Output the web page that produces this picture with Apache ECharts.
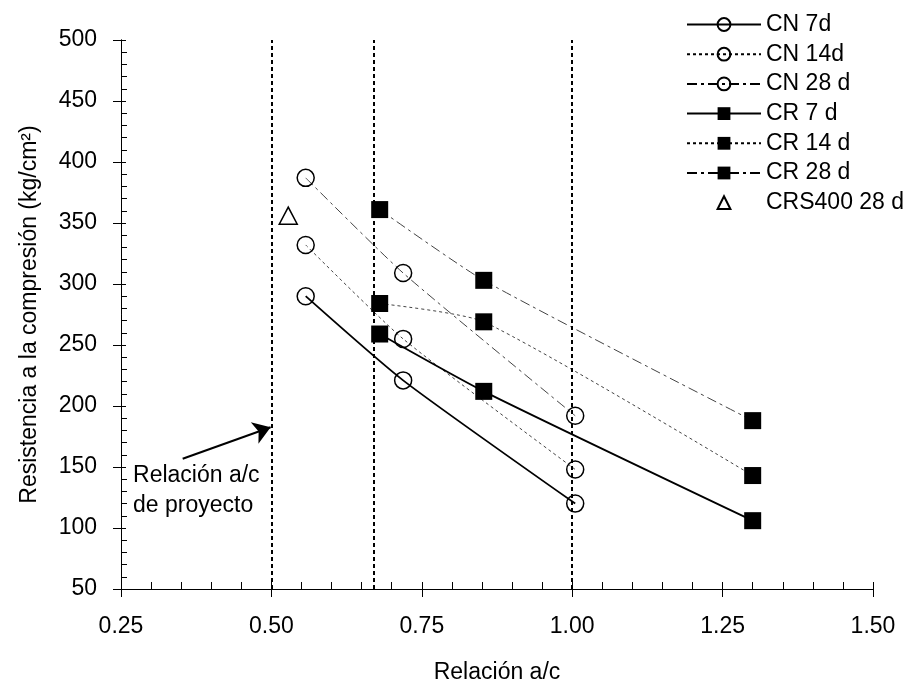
<!DOCTYPE html>
<html>
<head>
<meta charset="utf-8">
<script src="https://cdn.jsdelivr.net/npm/echarts@6/dist/echarts.min.js"></script>
<style>
  html, body { margin: 0; padding: 0; background: #fff; }
  #chart { width: 904px; height: 689px; }
</style>
</head>
<body>
<div id="chart"></div>
<script>
// Water/cement ratios of each mix family
const cnRatios = [0.557, 0.719, 1.005];
const crRatios = [0.68, 0.853, 1.30];
const crsRatios = [0.528];

// Compressive strength, kg/cm²
const cn7 = [290, 221, 120];
const cn14 = [332, 255, 148];
const cn28 = [387, 309, 192];
const cr7 = [259, 212, 106];
const cr14 = [284, 269, 143];
const cr28 = [361, 303, 188];
const crs400 = [356];

const seriesNames = ['CN 7d', 'CN 14d', 'CN 28 d', 'CR 7 d', 'CR 14 d', 'CR 28 d', 'CRS400 28 d'];

// Reference ratios drawn as vertical dotted lines
const guideRatios = [0.5, 0.67, 1.0];

const FONT = "'Liberation Sans', Arial, sans-serif";
const FS = 23;
const pairs = (xs, ys) => xs.map((x, i) => [x, ys[i]]);

const SOLID = { type: 'solid', width: 1.8, color: '#000' };
const DOTTED = { type: [3, 3], width: 1, color: '#444' };
const DASHDOT = { type: [10, 4, 3, 4], width: 1, color: '#444' };
const HOLLOW = { color: 'rgba(0,0,0,0)', borderColor: '#000', borderWidth: 1.5 };
const FILLED = { color: '#000', borderColor: '#000', borderWidth: 0 };

function curve(name, xs, ys, lineStyle, symbol) {
  return {
    name: name,
    type: 'line',
    data: pairs(xs, ys),
    smooth: 0.2,
    symbol: symbol,
    symbolSize: 17,
    lineStyle: lineStyle,
    itemStyle: symbol === 'rect' ? FILLED : HOLLOW,
    emphasis: { disabled: true },
    z: 3
  };
}

const chart = echarts.init(document.getElementById('chart'), null, { renderer: 'canvas' });

const axisBase = {
  type: 'value',
  axisLine: { show: true, lineStyle: { color: '#000', width: 1 } },
  splitLine: { show: false }
};

const option = {
  animation: false,
  backgroundColor: '#fff',
  textStyle: { fontFamily: FONT },
  grid: { left: 121, right: 31, top: 40, bottom: 96, containLabel: false },
  legend: {
    data: seriesNames,
    orient: 'vertical',
    left: 681,
    top: 8,
    itemWidth: 74,
    itemHeight: 16,
    itemGap: 6.7,
    selectedMode: false,
    lineStyle: { color: '#000' },
    textStyle: { fontSize: FS, color: '#000', fontFamily: FONT }
  },
  xAxis: [
    Object.assign({}, axisBase, {
      min: 0.25, max: 1.5, interval: 0.25,
      position: 'bottom',
      axisTick: { show: true, inside: false, length: 8, lineStyle: { color: '#000' } },
      axisLabel: {
        fontSize: FS, color: '#000', margin: 26, fontFamily: FONT,
        formatter: v => v.toFixed(2)
      },
      name: 'Relación a/c',
      nameLocation: 'middle',
      nameGap: 72,
      nameTextStyle: { fontSize: FS, color: '#000', fontFamily: FONT }
    }),
    Object.assign({}, axisBase, {
      min: 0.25, max: 1.5, interval: 0.25,
      position: 'bottom',
      axisTick: { show: true, inside: true, length: 7, lineStyle: { color: '#000' } },
      minorTick: { show: true, splitNumber: 5, length: 7, lineStyle: { color: '#000' } },
      axisLabel: { show: false }
    })
  ],
  yAxis: [
    Object.assign({}, axisBase, {
      min: 50, max: 500, interval: 50,
      position: 'left',
      axisTick: { show: true, inside: false, length: 8, lineStyle: { color: '#000' } },
      axisLabel: { fontSize: FS, color: '#000', margin: 24, fontFamily: FONT },
      name: 'Resistencia a la compresión (kg/cm²)',
      nameLocation: 'middle',
      nameGap: 80,
      nameTextStyle: { fontSize: FS, color: '#000', fontFamily: FONT }
    }),
    Object.assign({}, axisBase, {
      min: 50, max: 500, interval: 50,
      position: 'left',
      offset: 0,
      axisTick: { show: true, inside: true, length: 5, lineStyle: { color: '#000' } },
      minorTick: { show: true, splitNumber: 5, length: 6, lineStyle: { color: '#000' } },
      axisLabel: { show: false }
    })
  ],
  series: [
    curve(seriesNames[0], cnRatios, cn7, SOLID, 'circle'),
    curve(seriesNames[1], cnRatios, cn14, DOTTED, 'circle'),
    curve(seriesNames[2], cnRatios, cn28, DASHDOT, 'circle'),
    curve(seriesNames[3], crRatios, cr7, SOLID, 'rect'),
    curve(seriesNames[4], crRatios, cr14, DOTTED, 'rect'),
    curve(seriesNames[5], crRatios, cr28, DASHDOT, 'rect'),
    {
      // Single point, drawn without a connecting line
      name: seriesNames[6],
      type: 'line',
      data: pairs(crsRatios, crs400),
      symbol: 'triangle',
      symbolSize: [18, 17],
      showSymbol: true,
      lineStyle: { width: 0, opacity: 0 },
      itemStyle: HOLLOW,
      emphasis: { disabled: true },
      z: 3
    },
    {
      // Vertical guides and the arrow pointing at the design ratio
      name: 'guides',
      type: 'line',
      data: [],
      silent: true,
      markLine: {
        silent: true,
        animation: false,
        symbol: 'none',
        label: { show: false },
        emphasis: { disabled: true },
        lineStyle: { color: '#000', width: 2, type: [4, 3] },
        data: guideRatios.map(v => ({ xAxis: v })).concat([
          [
            { coord: [0.3525, 156.8], symbol: 'none', lineStyle: { type: 'solid', width: 2, color: '#000' } },
            { coord: [0.4987, 182.6], symbol: 'arrow', symbolSize: 17 }
          ]
        ])
      }
    }
  ]
};

chart.setOption(option);

// Note under the arrow
const notePos = chart.convertToPixel({ gridIndex: 0 }, [0.27, 155]);
chart.setOption({
  graphic: [{
    type: 'text',
    left: notePos[0],
    top: notePos[1],
    silent: true,
    style: {
      text: 'Relación a/c\nde proyecto',
      font: FS + 'px ' + FONT,
      lineHeight: 30,
      fill: '#000'
    }
  }]
});
</script>
</body>
</html>
